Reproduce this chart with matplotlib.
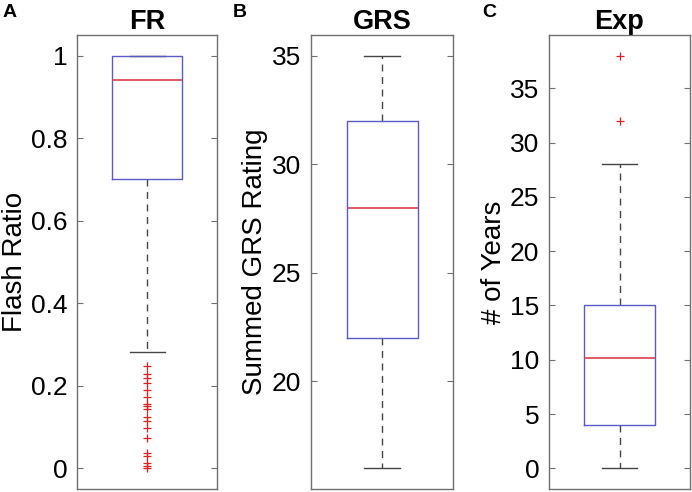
import matplotlib.pyplot as plt
from matplotlib.ticker import FormatStrFormatter

plt.rcParams['font.family'] = ['Liberation Sans', 'DejaVu Sans']

# Dati
pannelli = ['A', 'B', 'C']
titoli = ['FR', 'GRS', 'Exp']
etichette_y = ['Flash Ratio', 'Summed GRS Rating', '# of Years']

mediane = [0.94, 28.0, 10.2]
q1 = [0.70, 22.0, 4.0]
q3 = [1.00, 32.0, 15.0]
baffo_basso = [0.281, 16.0, 0.0]
baffo_alto = [1.00, 35.0, 28.0]
outliers = [
    [0.248, 0.228, 0.218, 0.208, 0.189, 0.173, 0.155, 0.150, 0.144, 0.124,
     0.114, 0.099, 0.073, 0.037, 0.029, 0.012, 0.005, 0.0],
    [],
    [32.0, 38.0],
]
limiti_y = [(-0.05, 1.05), (15.05, 35.95), (-1.9, 39.9)]
ticks_y = [[0, 0.2, 0.4, 0.6, 0.8, 1.0], [20, 25, 30, 35], [0, 5, 10, 15, 20, 25, 30, 35]]

# Posizioni degli assi in pixel (figura 692x492)
W, H = 692, 492
sinistre = [77, 311, 549]
larghezze = [140, 142, 141]
alto, basso = 35, 489
xlab = [-0.35, -0.30, -0.30]
lettere_x = [3, 233, 482]

col_box = '#5a5ac8'
col_med = '#d8404a'
col_baffi = '#454545'
col_cornice = '#707070'

fig = plt.figure(figsize=(W / 100, H / 100), dpi=100)

for i in range(3):
    ax = fig.add_axes([sinistre[i] / W, (H - basso) / H, larghezze[i] / W, (basso - alto) / H])
    stats = [dict(med=mediane[i], q1=q1[i], q3=q3[i], whislo=baffo_basso[i],
                  whishi=baffo_alto[i], fliers=outliers[i])]
    parti = ax.bxp(stats, positions=[1], widths=0.5, capwidths=0.25, showfliers=True,
                   boxprops=dict(color=col_box, linewidth=1.0),
                   medianprops=dict(color=col_med, linewidth=1.2),
                   whiskerprops=dict(color=col_baffi, linestyle=(0, (5, 4)), linewidth=1.0),
                   capprops=dict(color=col_baffi, linewidth=1.0),
                   flierprops=dict(marker='+', markeredgecolor='#dd2020', markersize=6,
                                   markeredgewidth=0.9, linestyle='none'))
    # la scatola sopra i baffi (come in MATLAB)
    for b in parti['boxes']:
        b.set_zorder(4)
    for m in parti['medians']:
        m.set_zorder(5)
    ax.set_xlim(0.5, 1.5)
    ax.set_ylim(*limiti_y[i])
    ax.set_yticks(ticks_y[i])
    ax.yaxis.set_major_formatter(FormatStrFormatter('%g'))
    ax.set_xticks([])
    ax.tick_params(axis='y', direction='in', length=4, width=0.8, color=col_cornice,
                   right=True, labelsize=19, pad=7)
    for s in ax.spines.values():
        s.set_color(col_cornice)
        s.set_linewidth(1.0)
    ax.set_title(titoli[i], fontsize=19.5, fontweight='bold', pad=4)
    ax.set_ylabel(etichette_y[i], fontsize=20)
    ax.yaxis.set_label_coords(xlab[i], 0.5)
    fig.text(lettere_x[i] / W, 1 - 4 / H, pannelli[i], fontsize=14, fontweight='bold',
             ha='left', va='top')

fig.savefig('out.png', dpi=100)
